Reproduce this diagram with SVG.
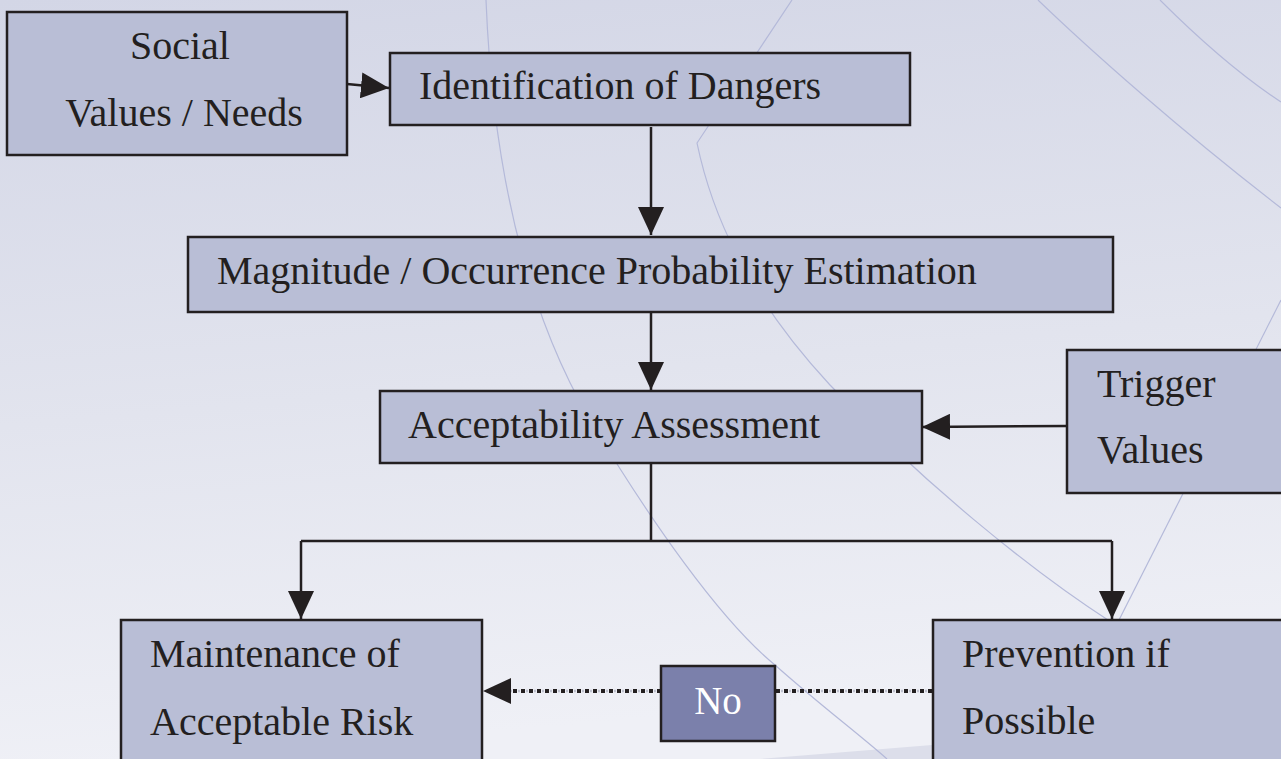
<svg xmlns="http://www.w3.org/2000/svg" width="1281" height="759" viewBox="0 0 1281 759">
  <defs>
    <linearGradient id="bg" x1="0" y1="0" x2="0.15" y2="1">
      <stop offset="0" stop-color="#d3d6e6"/>
      <stop offset="0.55" stop-color="#e2e4ee"/>
      <stop offset="1" stop-color="#eff0f6"/>
    </linearGradient>
    <marker id="arr" viewBox="0 0 28 26" refX="28" refY="13" markerWidth="28" markerHeight="26" markerUnits="userSpaceOnUse" orient="auto">
      <path d="M0,0 L28,13 L0,26 Z" fill="#231f20"/>
    </marker>
  </defs>
  <style>
    .box { fill: #b9bed6; stroke: #231f20; stroke-width: 2.5; }
    .no { fill: #7b80ab; stroke: #231f20; stroke-width: 2.5; }
    .t { font-family: "Liberation Serif", "DejaVu Serif", serif; font-size: 40px; fill: #231f20; }
    .tw { font-family: "Liberation Serif", "DejaVu Serif", serif; font-size: 39px; fill: #ffffff; }
    .ln { fill: none; stroke: #231f20; stroke-width: 2.5; }
    .curve { fill: none; stroke: #b4b9d9; stroke-width: 1.2; }
    .dk { fill: none; stroke: #231f20; stroke-width: 4; stroke-dasharray: 4 4; }
    .gy { fill: none; stroke: #a0a2b4; stroke-width: 2.5; stroke-dasharray: 1.2 6.8; stroke-dashoffset: -5.4; }
  </style>

  <g id="background">
    <rect x="0" y="0" width="1281" height="759" fill="url(#bg)"/>
    <path d="M760,759 L932,745 L1281,700 L1281,759 Z" fill="#dcdeea"/>
    <path class="curve" d="M486,0 C492,150 520,300 590,420 C650,520 720,620 775,665 C820,705 860,735 887,759"/>
    <path class="curve" d="M792,0 L697,143 C715,230 760,310 830,385 C920,480 1030,570 1111,622"/>
    <path class="curve" d="M1038,0 C1090,50 1180,130 1281,208"/>
    <path class="curve" d="M1160,0 C1200,40 1240,75 1281,102"/>
    <path class="curve" d="M1281,300 L1119,620"/>
  </g>

  <g id="connectors">
    <path class="ln" d="M347,84 L389,88" marker-end="url(#arr)"/>
    <path class="ln" d="M651,127 L651,235" marker-end="url(#arr)"/>
    <path class="ln" d="M651,312 L651,390" marker-end="url(#arr)"/>
    <path class="ln" d="M1067,426 L922,427" marker-end="url(#arr)"/>
    <path class="ln" d="M651,463 L651,541"/>
    <path class="ln" d="M301,541 L1112,541"/>
    <path class="ln" d="M301,541 L301,619" marker-end="url(#arr)"/>
    <path class="ln" d="M1112,541 L1112,619" marker-end="url(#arr)"/>
    <path class="dk" d="M932,691 L775,691"/>
    <path class="gy" d="M932,691 L775,691"/>
    <path class="dk" d="M661,691 L510,691"/>
    <path class="gy" d="M661,691 L510,691"/>
    <path fill="none" stroke="#231f20" stroke-width="0.01" d="M511,691 L483,691" marker-end="url(#arr)"/>
  </g>

  <g id="node-social">
    <rect class="box" x="7" y="12" width="340" height="143"/>
    <text class="t" x="180" y="59" text-anchor="middle">Social</text>
    <text class="t" x="184" y="126" text-anchor="middle">Values / Needs</text>
  </g>

  <g id="node-identification">
    <rect class="box" x="390" y="53" width="520" height="72"/>
    <text class="t" x="419" y="99">Identification of Dangers</text>
  </g>

  <g id="node-magnitude">
    <rect class="box" x="188" y="237" width="925" height="75"/>
    <text class="t" x="217" y="284">Magnitude / Occurrence Probability Estimation</text>
  </g>

  <g id="node-acceptability">
    <rect class="box" x="380" y="391" width="542" height="72"/>
    <text class="t" x="408" y="438">Acceptability Assessment</text>
  </g>

  <g id="node-trigger">
    <rect class="box" x="1067" y="350" width="230" height="143"/>
    <text class="t" x="1097" y="397">Trigger</text>
    <text class="t" x="1097" y="463">Values</text>
  </g>

  <g id="node-maintenance">
    <rect class="box" x="121" y="620" width="361" height="160"/>
    <text class="t" x="150" y="667">Maintenance of</text>
    <text class="t" x="150" y="735">Acceptable Risk</text>
  </g>

  <g id="node-prevention">
    <rect class="box" x="933" y="620" width="360" height="160"/>
    <text class="t" x="962" y="667">Prevention if</text>
    <text class="t" x="962" y="734">Possible</text>
  </g>

  <g id="node-no">
    <rect class="no" x="661" y="666" width="114" height="75"/>
    <text class="tw" x="718" y="714" text-anchor="middle">No</text>
  </g>
</svg>
